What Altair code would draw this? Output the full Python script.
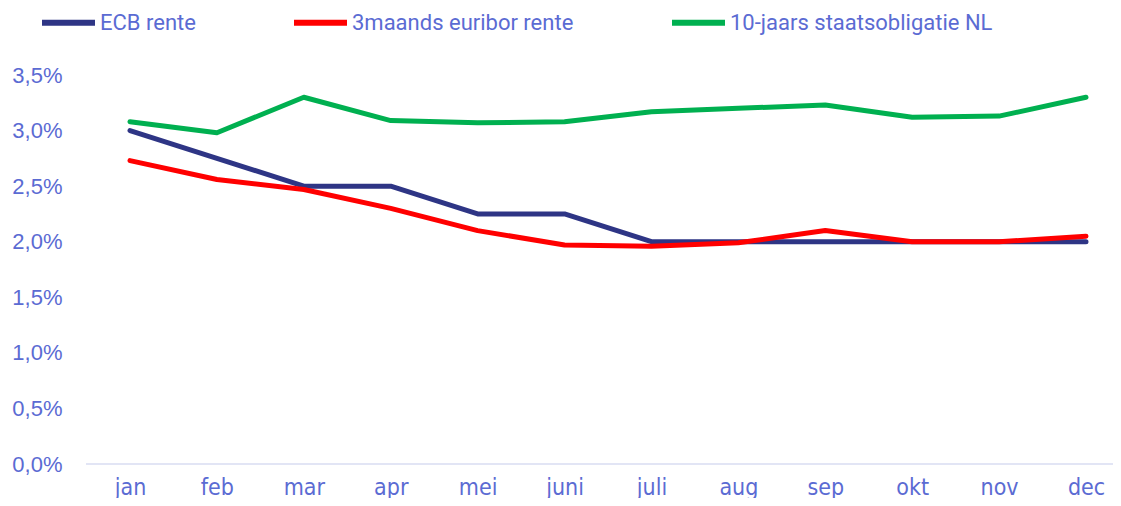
import altair as alt
import pandas as pd

months = ["jan", "feb", "mar", "apr", "mei", "juni", "juli", "aug", "sep", "okt", "nov", "dec"]
series_names = ["ECB rente", "3maands euribor rente", "10-jaars staatsobligatie NL"]
ecb = [3.00, 2.75, 2.50, 2.50, 2.25, 2.25, 2.00, 2.00, 2.00, 2.00, 2.00, 2.00]
euribor = [2.73, 2.56, 2.47, 2.30, 2.10, 1.97, 1.96, 1.99, 2.10, 2.00, 2.00, 2.05]
bond10 = [3.08, 2.98, 3.30, 3.09, 3.07, 3.08, 3.17, 3.20, 3.23, 3.12, 3.13, 3.30]
colors = ["#2E3585", "#FF0000", "#00B050"]
y_ticks = [0, 0.5, 1.0, 1.5, 2.0, 2.5, 3.0, 3.5]

rows = []
for name, vals in zip(series_names, [ecb, euribor, bond10]):
    for m, v in zip(months, vals):
        rows.append({"maand": m, "reeks": name, "rente": v})
df = pd.DataFrame(rows)

text_color = "#5B6BD3"

lines = alt.Chart(df).mark_line(strokeWidth=5, strokeCap="round", strokeJoin="round").encode(
    x=alt.X("maand:N", sort=months,
            scale=alt.Scale(type="point", range=[44, 1000], padding=0),
            axis=alt.Axis(title=None, labelAngle=0, ticks=False, domain=False,
                          labelColor=text_color, labelFontSize=23,
                          labelFont="Liberation Sans Narrow, DejaVu Sans Condensed, sans-serif",
                          labelPadding=12, grid=False)),
    y=alt.Y("rente:Q", scale=alt.Scale(domain=[0, 3.5], nice=False, zero=True),
            axis=alt.Axis(title=None, values=y_ticks, ticks=False, domain=False, grid=False,
                          labelExpr="replace(format(datum.value, '.1f'), '.', ',') + '%'",
                          labelColor=text_color, labelFontSize=22,
                          labelFont="Liberation Sans, Arial, sans-serif",
                          labelPadding=24)),
    color=alt.Color("reeks:N", sort=series_names,
                    scale=alt.Scale(domain=series_names, range=colors),
                    legend=alt.Legend(title=None, orient="none", direction="horizontal",
                                      legendX=-47, legendY=-82,
                                      symbolType="stroke", symbolSize=2809,
                                      symbolStrokeWidth=6, labelOffset=2,
                                      columnPadding=86, labelLimit=600,
                                      labelColor=text_color, labelFontSize=22,
                                      labelFont="Roboto, sans-serif")),
)

baseline = alt.Chart(pd.DataFrame({"nul": [0]})).mark_rule(color="#D9DCF2", strokeWidth=1.5).encode(
    y=alt.Y("nul:Q"),
    x=alt.value(0),
    x2=alt.value("width"),
)

chart = alt.layer(baseline, lines).properties(
    width=1027, height=389,
    autosize=alt.AutoSizeParams(type="none"),
    padding={"left": 78, "top": 67, "right": 0, "bottom": 34},
).configure_view(stroke=None)

chart.save("out.html", embed_options={"renderer": "svg", "actions": False})
